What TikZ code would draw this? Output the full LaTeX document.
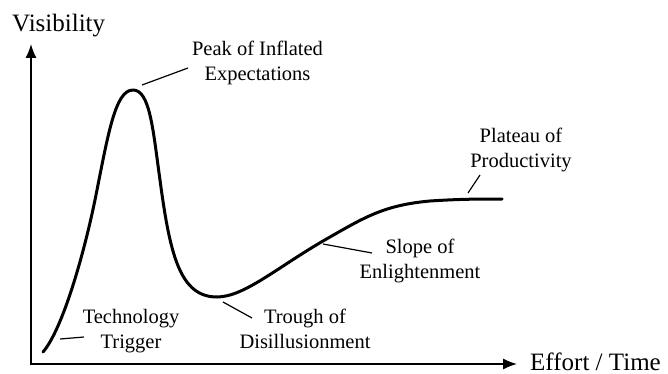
\documentclass[tikz,border=0pt]{standalone}
\usepackage{fontspec}
\setmainfont{Liberation Serif}
\usetikzlibrary{arrows.meta}
\begin{document}
\begin{tikzpicture}[x=1pt,y=-1pt,
  lbl/.style={font=\fontsize{20.5}{25}\selectfont, align=center, inner sep=0pt, anchor=north},
  axlbl/.style={font=\fontsize{25}{30}\selectfont, inner sep=0pt, anchor=base west},
  axis/.style={line width=1.5pt, {Latex[length=14pt,width=11pt]}-{Latex[length=14pt,width=11pt]}},
  hype/.style={line width=3pt, line cap=round, line join=round},
  leader/.style={line width=1.2pt}]
\useasboundingbox (0,0) rectangle (668,374);
% axes
\coordinate (ytop) at (31,44);
\coordinate (xend) at (517,364);
\draw[axis] (ytop) |- (xend);
\node[axlbl] (vis) at (12,32) {Visibility};
\node[axlbl] (eff) at (530,370) {Effort / Time};
% hype curve
\coordinate (c0) at (43,352);
\coordinate (c1) at (95,200);
\coordinate (c2) at (133,90);
\coordinate (c3) at (160,180);
\coordinate (c4) at (217,297);
\coordinate (c5) at (330,237);
\coordinate (c6) at (430,201);
\coordinate (c7) at (502,199);
\draw[hype] (c0) .. controls (62,330) and (83,258) .. (c1)
  .. controls (108,135) and (115,90) .. (c2)
  .. controls (150,90) and (153,130) .. (c3)
  .. controls (170,255) and (180,297) .. (c4)
  .. controls (245,297) and (280,265) .. (c5)
  .. controls (365,217) and (385,205) .. (c6)
  .. controls (460,199) and (480,199) .. (c7);
% labels
\node[lbl] (peak) at (257.5,41) {Peak of Inflated\\Expectations};
\node[lbl] (trig) at (131,309) {Technology\\Trigger};
\node[lbl] (trough) at (305,309) {Trough of\\Disillusionment};
\node[lbl] (slope) at (420,239) {Slope of\\Enlightenment};
\node[lbl] (plat) at (521,128) {Plateau of\\Productivity};
% leader lines
\coordinate (p1) at (142,85);  \coordinate (p2) at (188,68);
\coordinate (t1) at (60,339);  \coordinate (t2) at (84,337);
\coordinate (d1) at (223,302); \coordinate (d2) at (252,318);
\coordinate (s1) at (323,244); \coordinate (s2) at (372,253);
\coordinate (q1) at (468,193); \coordinate (q2) at (480,175);
\draw[leader] (p1) -- (p2);
\draw[leader] (t1) -- (t2);
\draw[leader] (d1) -- (d2);
\draw[leader] (s1) -- (s2);
\draw[leader] (q1) -- (q2);
\end{tikzpicture}
\end{document}
